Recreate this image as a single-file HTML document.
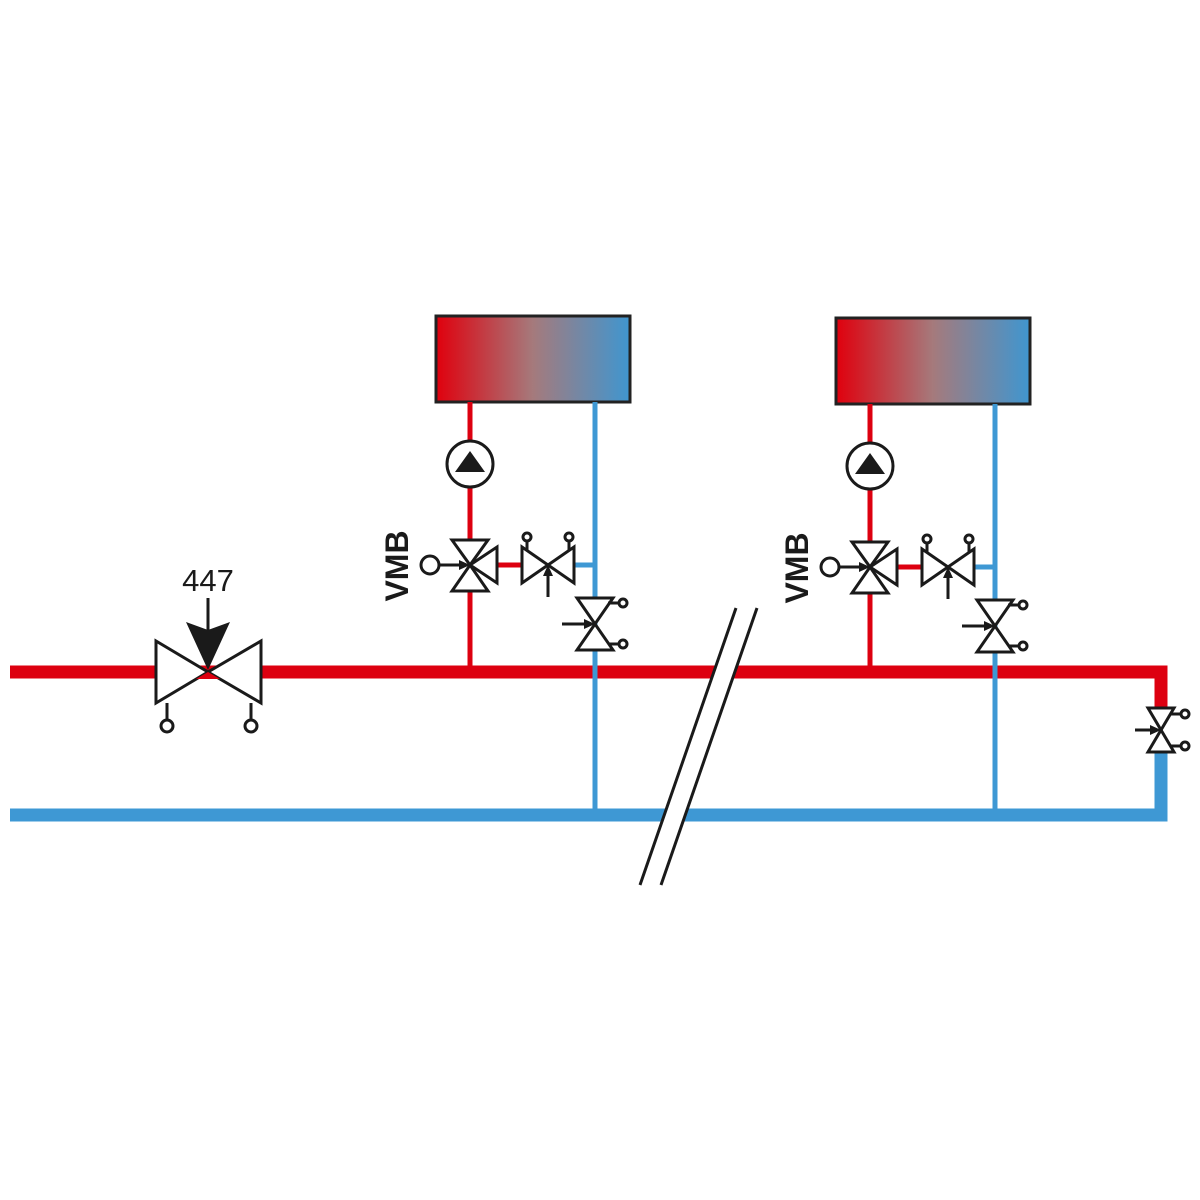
<!DOCTYPE html>
<html><head><meta charset="utf-8"><style>html,body{margin:0;padding:0;background:#fff}svg{display:block}</style></head>
<body>
<svg width="1200" height="1200" viewBox="0 0 1200 1200" xmlns="http://www.w3.org/2000/svg">
<defs>
<linearGradient id="g" x1="0" x2="1" y1="0" y2="0">
<stop offset="0" stop-color="#e0000d"/><stop offset="0.5" stop-color="#a57a7c"/><stop offset="1" stop-color="#3f96d0"/>
</linearGradient>
<g id="unit">
<rect x="436" y="316" width="194" height="86" fill="url(#g)" stroke="#222" stroke-width="3"/>
<line x1="470" y1="402" x2="470" y2="672" stroke="#dd0010" stroke-width="5"/>
<line x1="595" y1="402" x2="595" y2="815" stroke="#3e98d4" stroke-width="5"/>
<line x1="497" y1="565" x2="522" y2="565" stroke="#dd0010" stroke-width="5"/>
<line x1="574" y1="565" x2="595" y2="565" stroke="#3e98d4" stroke-width="5"/>
<circle cx="470" cy="464" r="23" fill="#fff" stroke="#1a1a1a" stroke-width="3"/>
<polygon points="470,451 485,472 455,472" fill="#1a1a1a"/>
<g stroke="#1a1a1a" stroke-width="3" fill="#fff" stroke-linejoin="miter">
<polygon points="452,540 488,540 470,565"/>
<polygon points="452,591 488,591 470,565"/>
<polygon points="497,547 497,583 470,565"/>
<circle cx="430" cy="565" r="9"/>
<line x1="439" y1="565" x2="462" y2="565"/>
<polygon points="522,547 522,583 548,565"/>
<polygon points="574,547 574,583 548,565"/>
<line x1="527" y1="550" x2="527" y2="541"/><circle cx="527" cy="537" r="4"/>
<line x1="569" y1="550" x2="569" y2="541"/><circle cx="569" cy="537" r="4"/>
<line x1="548" y1="597" x2="548" y2="574"/>
<polygon points="577,598 613,598 595,624"/>
<polygon points="577,650 613,650 595,624"/>
<line x1="608" y1="603" x2="619" y2="603"/><circle cx="623" cy="603" r="4"/>
<line x1="608" y1="644" x2="619" y2="644"/><circle cx="623" cy="644" r="4"/>
<line x1="562" y1="624" x2="586" y2="624"/>
</g>
<polygon points="470,565 459,560 459,570" fill="#1a1a1a"/>
<polygon points="548,565 543,576 553,576" fill="#1a1a1a"/>
<polygon points="595,624 584,619 584,629" fill="#1a1a1a"/>
<text transform="translate(408,566) rotate(-90)" text-anchor="middle" font-family="Liberation Sans, sans-serif" font-weight="bold" font-size="32" fill="#1a1a1a">VMB</text>
</g>
</defs>
<path d="M10,672 H1161 V708" fill="none" stroke="#dd0010" stroke-width="13"/>
<path d="M10,815 H1161 V752" fill="none" stroke="#3e98d4" stroke-width="13"/>
<use href="#unit"/>
<use href="#unit" transform="translate(400,2)"/>
<polygon points="736,608 757,608 661,885 640,885" fill="#fff"/>
<g stroke="#1a1a1a" stroke-width="3">
<line x1="736" y1="608" x2="640" y2="885"/>
<line x1="757" y1="608" x2="661" y2="885"/>
</g>
<g stroke="#1a1a1a" stroke-width="3" fill="#fff">
<polygon points="156,641 156,703 208,672"/>
<polygon points="261,641 261,703 208,672"/>
<line x1="167" y1="703" x2="167" y2="719"/><circle cx="167" cy="726" r="6"/>
<line x1="251" y1="703" x2="251" y2="719"/><circle cx="251" cy="726" r="6"/>
<line x1="208" y1="598" x2="208" y2="630"/>
</g>
<polygon points="186,622 208,670 230,622 208,630" fill="#1a1a1a"/>
<polygon points="208,672 196,679 220,679" fill="#dd0010"/>
<text x="208" y="591" text-anchor="middle" font-family="Liberation Sans, sans-serif" font-size="31" fill="#1a1a1a">447</text>
<g stroke="#1a1a1a" stroke-width="3" fill="#fff">
<polygon points="1148,708 1174,708 1161,730"/>
<polygon points="1148,752 1174,752 1161,730"/>
<line x1="1170" y1="714" x2="1181" y2="714"/><circle cx="1185" cy="714" r="4"/>
<line x1="1170" y1="746" x2="1181" y2="746"/><circle cx="1185" cy="746" r="4"/>
<line x1="1135" y1="730" x2="1153" y2="730"/>
</g>
<polygon points="1161,730 1150,725 1150,735" fill="#1a1a1a"/>
</svg>
</body></html>
